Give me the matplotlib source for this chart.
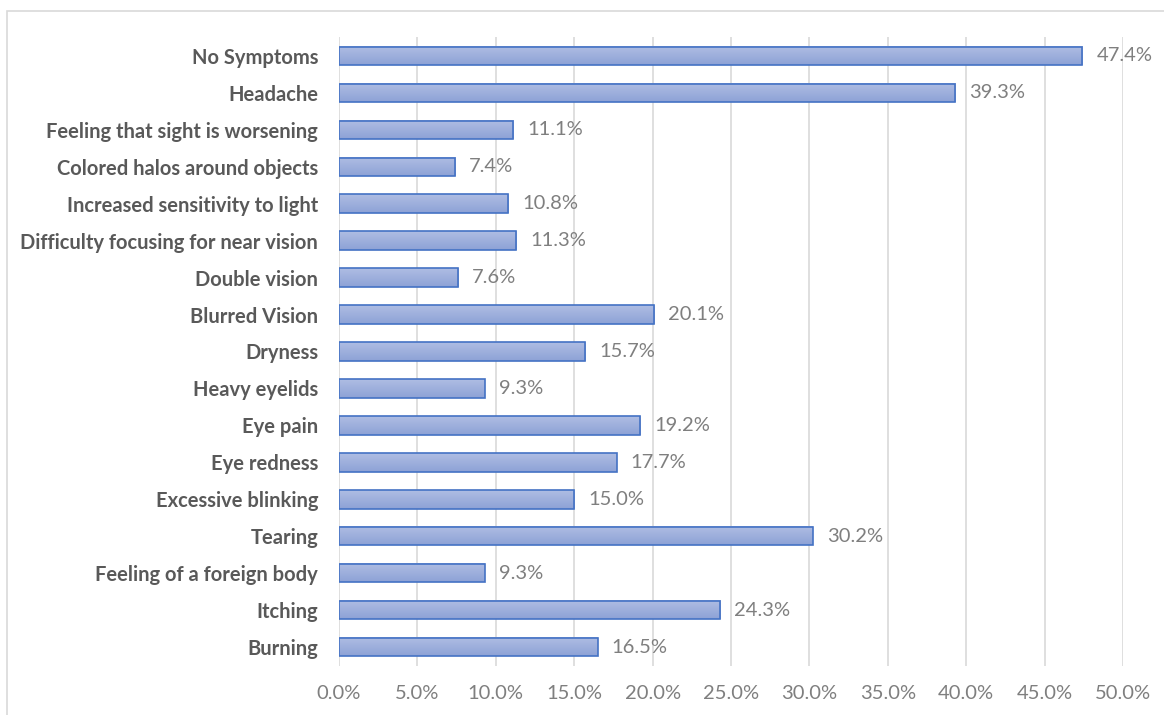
import matplotlib
matplotlib.use("Agg")
import matplotlib.pyplot as plt
import numpy as np
from matplotlib.patches import Rectangle
from matplotlib.colors import LinearSegmentedColormap

categories = ["No Symptoms", "Headache", "Feeling that sight is worsening",
              "Colored halos around objects", "Increased sensitivity to light",
              "Difficulty focusing for near vision", "Double vision", "Blurred Vision",
              "Dryness", "Heavy eyelids", "Eye pain", "Eye redness", "Excessive blinking",
              "Tearing", "Feeling of a foreign body", "Itching", "Burning"]
values = [47.4, 39.3, 11.1, 7.4, 10.8, 11.3, 7.6, 20.1, 15.7, 9.3, 19.2, 17.7, 15.0,
          30.2, 9.3, 24.3, 16.5]
xticks = [0, 5, 10, 15, 20, 25, 30, 35, 40, 45, 50]

fig = plt.figure(figsize=(11.64, 7.15), dpi=100)
ax = fig.add_axes([0.2912, 0.0692, 0.6736, 0.8784])

n = len(categories)
ypos = np.arange(n)[::-1]
h = 0.5
cmap = LinearSegmentedColormap.from_list("g", ["#8DA2D6", "#AFBDE3"])
grad = np.linspace(0, 1, 50).reshape(-1, 1)
bars = ax.barh(ypos, values, height=h, color="none", edgecolor="#4472C4", linewidth=1.2, zorder=3)
for b in bars:
    x0, y0 = b.get_x(), b.get_y()
    w, hh = b.get_width(), b.get_height()
    ax.imshow(grad, cmap=cmap, aspect="auto", extent=[x0, x0 + w, y0, y0 + hh],
              origin="lower", zorder=2, interpolation="bicubic")
for y, v in zip(ypos, values):
    ax.text(v + 0.9, y, f"{v:.1f}%", va="center", ha="left", fontsize=14.5,
            color="#7F7F7F", family="Lato", zorder=4)

ax.set_xlim(0, 50)
ax.set_ylim(-0.5, n - 0.5)
ax.set_xticks(xticks)
ax.set_xticklabels([f"{t:.1f}%" for t in xticks], fontsize=14.5, color="#7F7F7F", family="Lato")
ax.set_yticks(ypos)
ax.set_yticklabels(categories, fontsize=14.5, color="#595959", fontweight="bold", family="Lato")
ax.tick_params(length=0, pad=15, axis="y")
ax.tick_params(length=0, pad=14, axis="x")
ax.grid(axis="x", color="#D9D9D9", linewidth=1.2, zorder=0)
ax.set_axisbelow(True)
for s in ax.spines.values():
    s.set_visible(False)

fig.patches.append(Rectangle((7 / 1164, -0.01), 1.02, 1 - 11 / 715 + 0.01,
                             transform=fig.transFigure, fill=False,
                             edgecolor="#D9D9D9", linewidth=1.2))
fig.savefig("out.png", dpi=100)
